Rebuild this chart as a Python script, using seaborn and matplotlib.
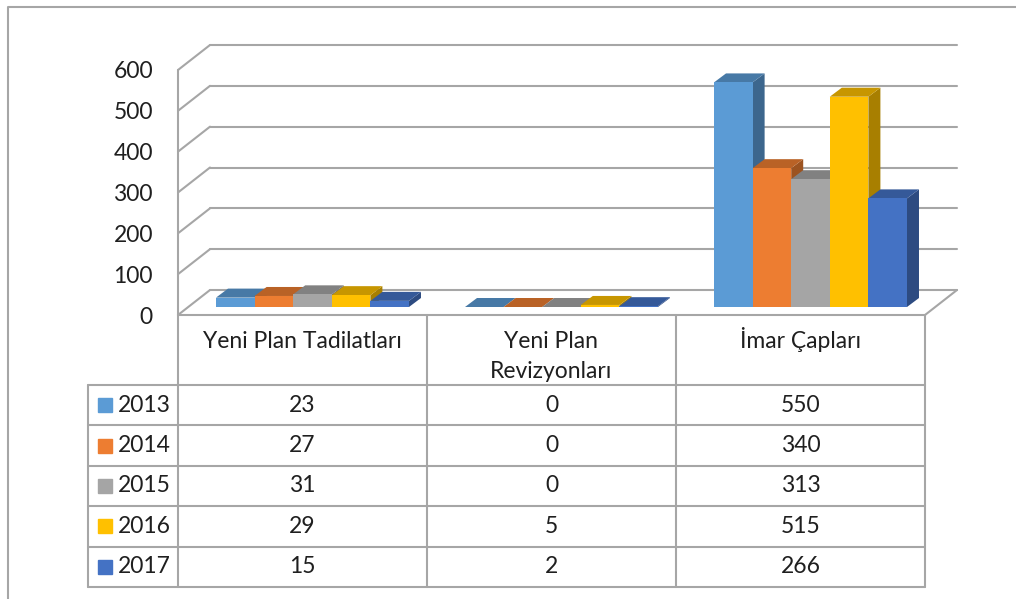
import numpy as np
import pandas as pd
import seaborn as sns
import matplotlib.pyplot as plt
from matplotlib.transforms import ScaledTranslation, IdentityTransform
from matplotlib.patches import Polygon
from matplotlib.lines import Line2D
import matplotlib.colors as mcolors

# --- veri ---
categories = ["Yeni Plan Tadilatları", "Yeni Plan\nRevizyonları", "İmar Çapları"]
years = ["2013", "2014", "2015", "2016", "2017"]
v2013 = [23, 0, 550]
v2014 = [27, 0, 340]
v2015 = [31, 0, 313]
v2016 = [29, 5, 515]
v2017 = [15, 2, 266]
colors = ["#5B9BD5", "#ED7D31", "#A5A5A5", "#FFC000", "#4472C4"]
yticks = [0, 100, 200, 300, 400, 500, 600]

values = [v2013, v2014, v2015, v2016, v2017]
rows = []
for yr, vals in zip(years, values):
    for cat, v in zip(categories, vals):
        rows.append({"Kategori": cat, "Yıl": yr, "Değer": v})
df = pd.DataFrame(rows)

sns.set_style("white")
plt.rcParams["font.family"] = ["Lato", "DejaVu Sans"]

W, H = 1016, 599
grid_c = "#a6a6a6"
txt_c = "#1f1f1f"
fs = 16.5

fig = plt.figure(figsize=(W / 100, H / 100), dpi=100)
ax = fig.add_axes([178 / W, (H - 315) / H, 747 / W, 245 / H])

sns.barplot(data=df, x="Kategori", y="Değer", hue="Yıl", palette=colors,
            width=0.775, saturation=1, legend=False, ax=ax, errorbar=None)
ax.set_xlim(-0.5, 2.5)
ax.set_ylim(0, 600)

# 3B görünüm: ön yüz kaydırma ve derinlik
bar_shift = ScaledTranslation(10 / 100, 8 / 100, fig.dpi_scale_trans)
back_shift = ScaledTranslation(32 / 100, 25 / 100, fig.dpi_scale_trans)
ddx, ddy = 12, 9
back_dx, back_dy = 32, 25

fig.canvas.draw()
patches = sorted(ax.patches, key=lambda p: p.get_x())
for k, p in enumerate(patches):
    fc = p.get_facecolor()
    trf = ax.transData + bar_shift
    x0, x1 = p.get_x(), p.get_x() + p.get_width()
    h = p.get_height()
    (px0, py0), (px1, py1) = trf.transform([(x0, 0), (x1, h)])
    rgb = np.array(mcolors.to_rgb(fc))
    side = Polygon([(px1, py0), (px1 + ddx, py0 + ddy), (px1 + ddx, py1 + ddy), (px1, py1)],
                   closed=True, facecolor=rgb * 0.66, edgecolor="none",
                   transform=IdentityTransform(), zorder=3 + 0.1 * k)
    top = Polygon([(px0, py1), (px1, py1), (px1 + ddx, py1 + ddy), (px0 + ddx, py1 + ddy)],
                  closed=True, facecolor=rgb * 0.78, edgecolor="none",
                  transform=IdentityTransform(), zorder=3 + 0.1 * k + 0.02)
    ax.add_artist(side)
    ax.add_artist(top)
    side.set_clip_on(False)
    top.set_clip_on(False)
    p.set_transform(trf)
    p.set_zorder(3 + 0.1 * k + 0.05)
    p.set_edgecolor("none")
    p.set_clip_on(False)

# arka duvar ızgara çizgileri ve sol duvar
for yv in yticks:
    ax.plot([-0.5, 2.5], [yv, yv], color=grid_c, lw=1.5,
            transform=ax.transData + back_shift, zorder=1, clip_on=False)
    fx, fy = ax.transData.transform((-0.5, yv))
    ln = Line2D([fx, fx + back_dx], [fy, fy + back_dy], color=grid_c, lw=1.5,
                transform=IdentityTransform(), zorder=1)
    ax.add_artist(ln)
    ln.set_clip_on(False)
ax.plot([-0.5, -0.5], [0, 600], color=grid_c, lw=1.5, zorder=1, clip_on=False)
ax.plot([-0.5, 2.5], [0, 0], color=grid_c, lw=1.5, zorder=1, clip_on=False)
rx, ry = ax.transData.transform((2.5, 0))
ln = Line2D([rx, rx + back_dx], [ry, ry + back_dy], color=grid_c, lw=1.5,
            transform=IdentityTransform(), zorder=1)
ax.add_artist(ln)
ln.set_clip_on(False)

ax.set_xlim(-0.5, 2.5)
ax.set_ylim(0, 600)
ax.set_yticks(yticks)
ax.set_xticks([])
ax.set_xlabel("")
ax.set_ylabel("")
ax.tick_params(axis="y", length=0, pad=18, labelsize=fs, labelcolor=txt_c)
for s in ax.spines.values():
    s.set_visible(False)
ax.set_facecolor("none")

# veri tablosu
hdr = 70 / 40.4
lab_w = 90 / 249
xl = -0.5 - lab_w
axt = fig.add_axes([88 / W, (H - 587) / H, (925 - 88) / W, 272 / H])
axt.set_xlim(xl, 2.5)
axt.set_ylim(hdr + len(years), 0)
axt.axis("off")

for xv in [-0.5, 0.5, 1.5, 2.5]:
    axt.plot([xv, xv], [0, hdr + len(years)], color=grid_c, lw=1.5, clip_on=False)
axt.plot([xl, xl], [hdr, hdr + len(years)], color=grid_c, lw=1.5, clip_on=False)
for i in range(len(years) + 1):
    axt.plot([xl, 2.5], [hdr + i, hdr + i], color=grid_c, lw=1.5, clip_on=False)

line_step = 30 / 40.4
for i, cat in enumerate(categories):
    for j, part in enumerate(cat.split("\n")):
        axt.text(i, 0.82 + j * line_step, part, ha="center", va="baseline",
                 fontsize=fs, color=txt_c)

for r, (yr, vals, col) in enumerate(zip(years, values, colors)):
    yc = hdr + r + 0.5
    axt.plot([xl + 16.5 / 249], [yc], marker="s", ms=9.5, color=col, ls="none",
             clip_on=False)
    axt.text(xl + 30 / 249, yc, yr, ha="left", va="center", fontsize=fs, color=txt_c)
    for i, v in enumerate(vals):
        axt.text(i, yc, str(v), ha="center", va="center", fontsize=fs, color=txt_c)

# dış çerçeve
fig.add_artist(Line2D([8 / W, 8 / W, 1.0], [0.0, 1 - 7 / H, 1 - 7 / H], color=grid_c,
                      lw=1.5, transform=fig.transFigure))

fig.savefig("out.png", dpi=100)
